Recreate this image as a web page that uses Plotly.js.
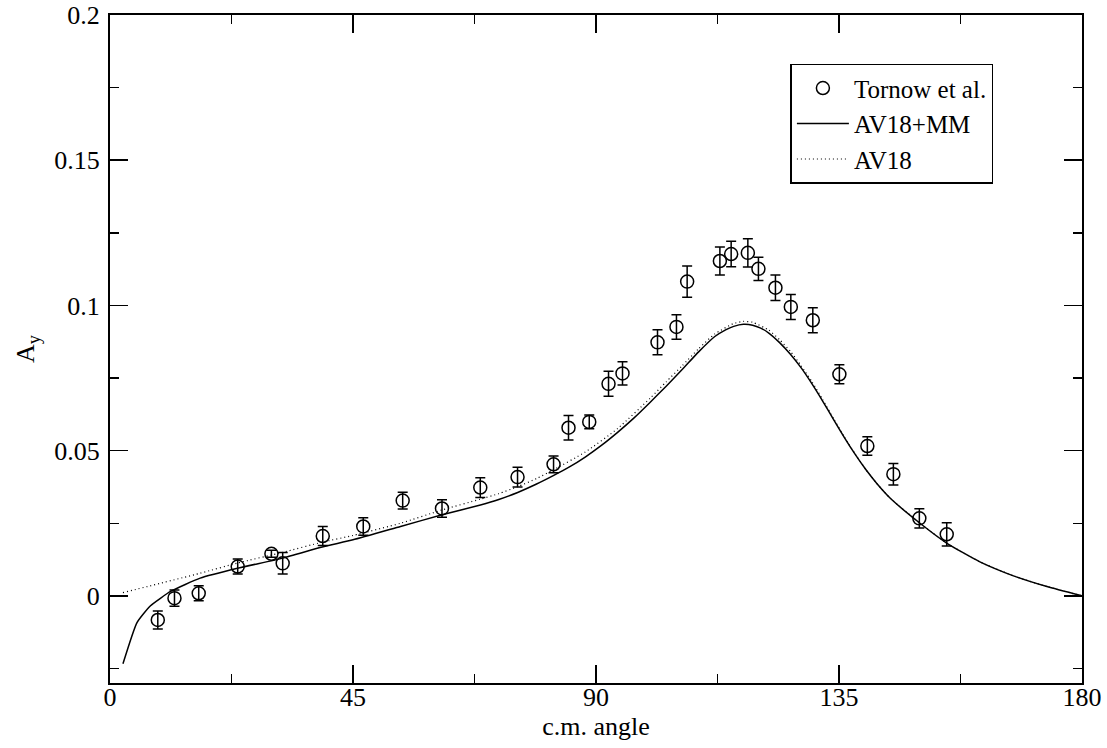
<!DOCTYPE html>
<html>
<head>
<meta charset="utf-8">
<script src="https://cdn.plot.ly/plotly-3.0.1.min.js"></script>
<style>html,body{margin:0;padding:0;background:#fff;}#chart{width:1107px;height:748px;}</style>
</head>
<body>
<div id="chart"></div>
<script>
// Experimental data (Tornow et al.)
const dataAngle = [8.85, 11.94, 16.43, 23.65, 29.89, 31.98, 39.4, 46.9, 54.2, 61.48, 68.57, 75.47, 82.14, 84.91, 88.75, 92.32, 94.91, 101.39, 104.9, 106.88, 112.94, 115.03, 118.12, 120.08, 123.23, 126.08, 130.15, 135.07, 140.25, 145.07, 149.88, 154.95];
const dataAy = [-0.0083, -0.0008, 0.0009, 0.0101, 0.0145, 0.0112, 0.0206, 0.0239, 0.0328, 0.0301, 0.0373, 0.0409, 0.0453, 0.0579, 0.0599, 0.0730, 0.0766, 0.0873, 0.0926, 0.1082, 0.1153, 0.1177, 0.1181, 0.1126, 0.1061, 0.0995, 0.0949, 0.0763, 0.0516, 0.0419, 0.0267, 0.0212];
const dataErr = [0.0031, 0.0028, 0.0026, 0.0026, 0.0012, 0.0037, 0.0033, 0.0030, 0.0029, 0.0030, 0.0034, 0.0034, 0.0029, 0.0042, 0.0024, 0.0043, 0.0040, 0.0043, 0.0042, 0.0054, 0.0048, 0.0044, 0.0049, 0.0040, 0.0044, 0.0043, 0.0043, 0.0033, 0.0032, 0.0037, 0.0033, 0.0040];

// AV18+MM
const mmAngle = [2.4, 5, 7.5, 11.3, 16.7, 23.6, 32, 39.3, 45, 53.8, 61.5, 68.6, 72, 75.5, 79, 82, 85, 88, 91, 94, 97, 100, 103, 106, 109, 112, 114, 115.5, 117.3, 119, 120.5, 122, 124, 126, 128, 130, 132, 134, 136, 138, 140, 142, 144.5, 150, 155, 161, 167.3, 173.5, 180];
const mmAy = [-0.0234, -0.0092, -0.0034, 0.0016, 0.0061, 0.0095, 0.0130, 0.0168, 0.0193, 0.0239, 0.0279, 0.0313, 0.0332, 0.0356, 0.0385, 0.0413, 0.0443, 0.0478, 0.0518, 0.0563, 0.0612, 0.0666, 0.0722, 0.0780, 0.0840, 0.0893, 0.0916, 0.0928, 0.0935, 0.0932, 0.0922, 0.0905, 0.0872, 0.0832, 0.0785, 0.0730, 0.0670, 0.0607, 0.0545, 0.0487, 0.0434, 0.0387, 0.0336, 0.0250, 0.0181, 0.0118, 0.0069, 0.0032, 0.0];

// AV18
const avAngle = [2.4, 16.7, 23.6, 32, 39.3, 45, 53.8, 61.5, 68.6, 72, 75.5, 79, 82, 88, 94, 100, 103, 106, 109, 112, 115.5, 117.3, 119, 122, 124, 126, 128, 130, 132, 134, 136, 138, 140, 142, 144.5, 150, 155, 161, 167.3, 173.5, 180];
const avAy = [0.0011, 0.0078, 0.0113, 0.0150, 0.0185, 0.0208, 0.0250, 0.0296, 0.0333, 0.0352, 0.0376, 0.0404, 0.0433, 0.0495, 0.0576, 0.0680, 0.0737, 0.0793, 0.0851, 0.0902, 0.0938, 0.0945, 0.0942, 0.0915, 0.0882, 0.0842, 0.0792, 0.0737, 0.0675, 0.0610, 0.0547, 0.0488, 0.0434, 0.0387, 0.0336, 0.0250, 0.0181, 0.0118, 0.0069, 0.0032, 0.0];

const font = {family: 'Liberation Serif', color: '#000', size: 26};
const legendFont = {family: 'Liberation Serif', color: '#000', size: 25};

const traces = [
  {x: dataAngle, y: dataAy, type: 'scatter', mode: 'markers', name: 'Tornow et al.',
   marker: {symbol: 'circle-open', size: 13, color: '#000', line: {width: 1.5, color: '#000'}},
   error_y: {type: 'data', array: dataErr, visible: true, color: '#000', thickness: 1.5, width: 5}},
  {x: mmAngle, y: mmAy, type: 'scatter', mode: 'lines', name: 'AV18+MM',
   line: {color: '#000', width: 1.5, shape: 'spline', smoothing: 0.5}},
  {x: avAngle, y: avAy, type: 'scatter', mode: 'lines', name: 'AV18',
   line: {color: '#000', width: 1.2, dash: '1px,3px', shape: 'spline', smoothing: 0.5}}
];

const layout = {
  width: 1107, height: 748,
  margin: {l: 109.5, r: 25, t: 14.5, b: 65},
  paper_bgcolor: '#fff', plot_bgcolor: '#fff',
  font: font,
  showlegend: true,
  legend: {x: 0.70, y: 0.927, xanchor: 'left', yanchor: 'top', bgcolor: '#fff',
           bordercolor: '#000', borderwidth: 1.5, font: legendFont, itemwidth: 52, tracegroupgap: 0},
  xaxis: {range: [0, 180], tickvals: [0, 45, 90, 135, 180], ticktext: ['0', '45', '90', '135', '180'],
          ticks: 'inside', ticklen: 18, tickwidth: 1.5, tickcolor: '#000', ticklabelstandoff: -10,
          minor: {tickvals: [22.5, 67.5, 112.5, 157.5], ticks: 'inside', ticklen: 9, tickwidth: 1.5, tickcolor: '#000'},
          showline: true, linecolor: '#000', linewidth: 2, mirror: 'ticks', showgrid: false, zeroline: false,
          title: {text: 'c.m. angle', font: font, standoff: 0}, tickfont: font},
  yaxis: {range: [-0.03, 0.2], tickvals: [0, 0.05, 0.1, 0.15, 0.2], ticktext: ['0', '0.05', '0.1', '0.15', '0.2'],
          ticks: 'inside', ticklen: 18, tickwidth: 1.5, tickcolor: '#000', ticklabelstandoff: 3,
          minor: {tickvals: [-0.025, 0.025, 0.075, 0.125, 0.175], ticks: 'inside', ticklen: 9, tickwidth: 1.5, tickcolor: '#000'},
          showline: true, linecolor: '#000', linewidth: 2, mirror: 'ticks', showgrid: false, zeroline: false,
          title: {text: 'A<sub>y</sub>', font: font, standoff: 12}, tickfont: font}
};

Plotly.newPlot('chart', traces, layout, {displayModeBar: false, staticPlot: true});
</script>
</body>
</html>
